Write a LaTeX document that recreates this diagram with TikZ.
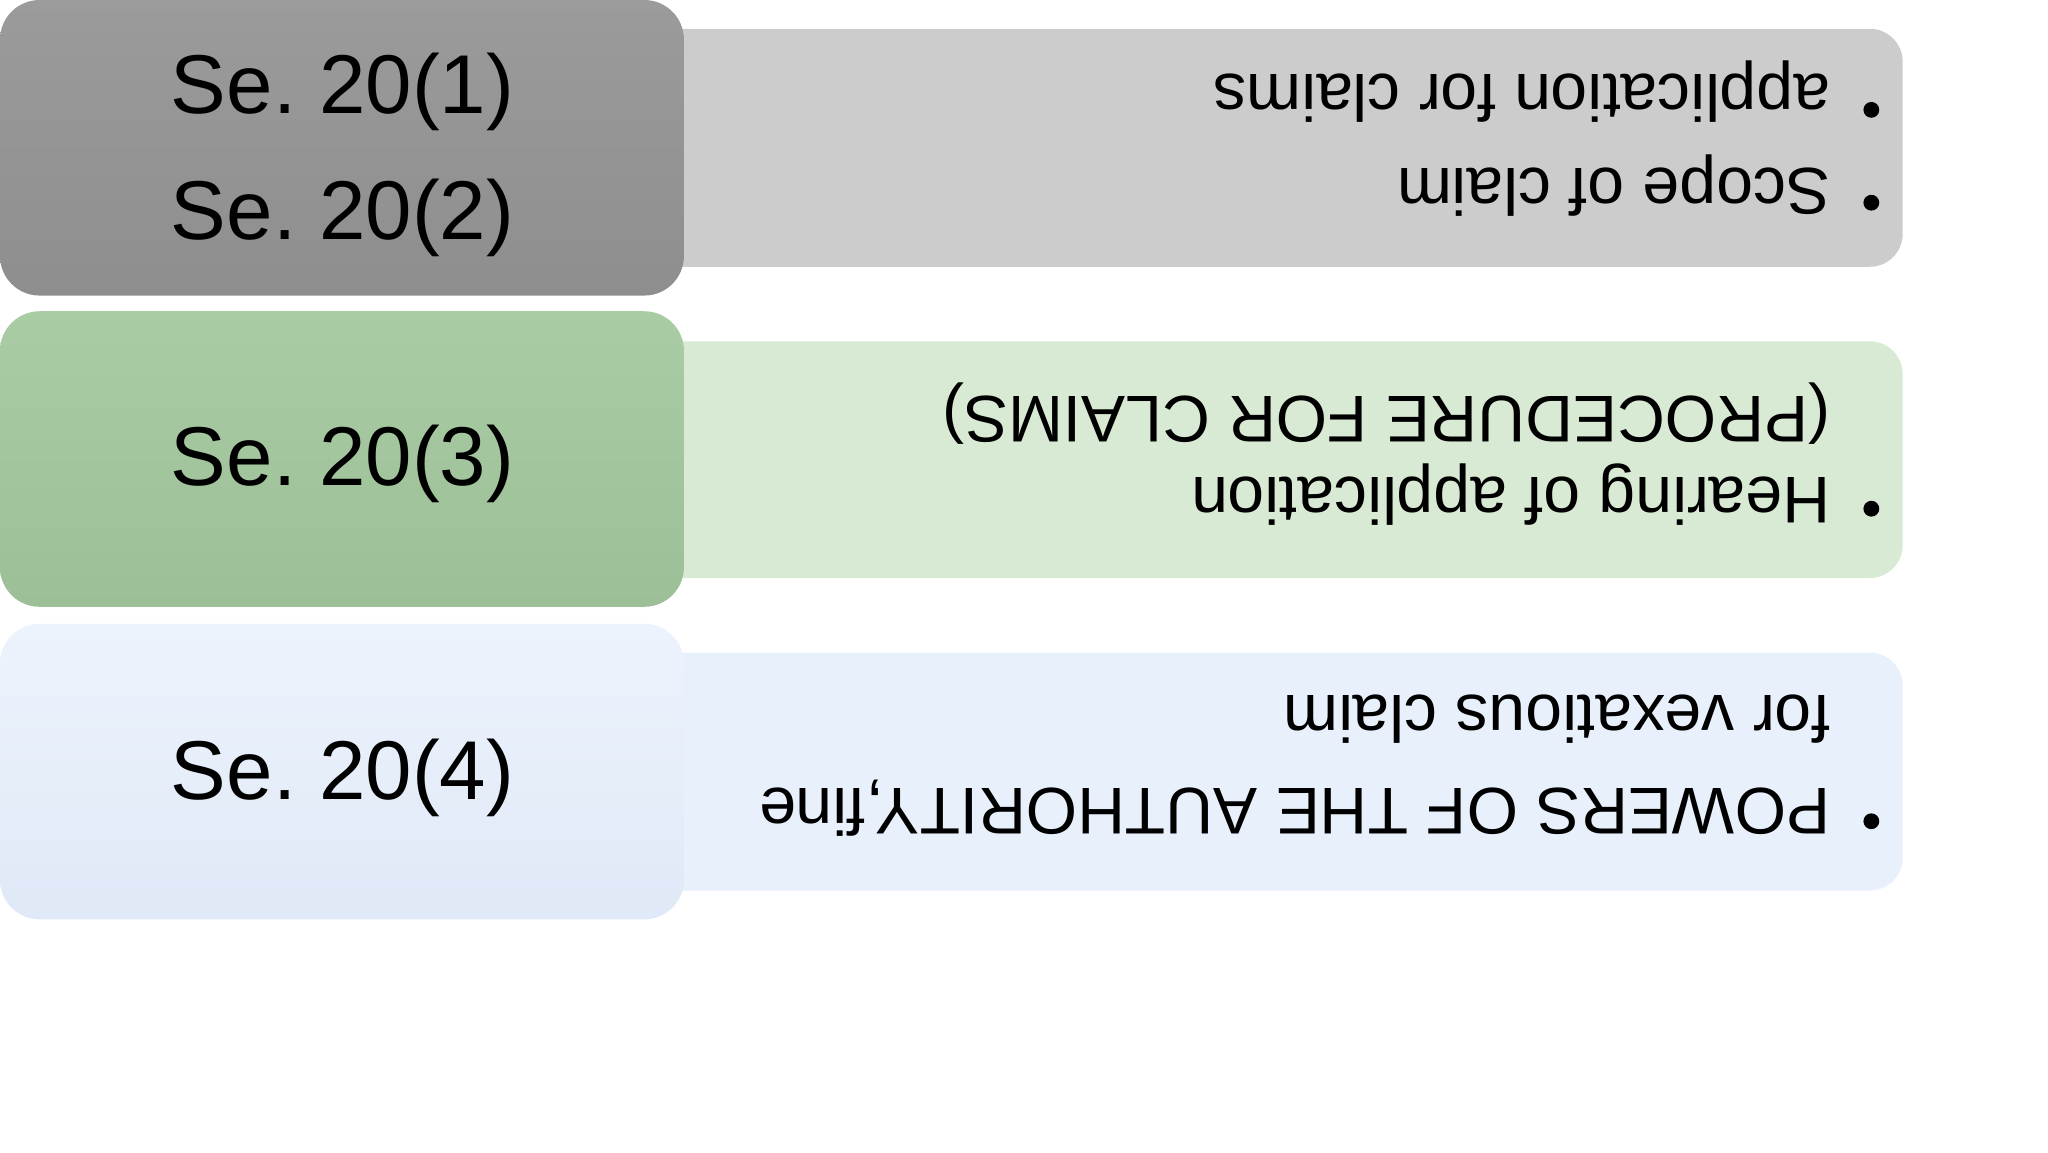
\documentclass[tikz,border=0pt]{standalone}
\usepackage{fontspec}
\setmainfont{Liberation Sans}
\frenchspacing
\begin{document}
\begin{tikzpicture}[x=0.02cm,y=-0.02cm,
  lbox/.style={rounded corners=0.6cm},
  rbox/.style={rounded corners=0.5cm},
  lt/.style={font=\fontsize{36}{40}\selectfont},
  rt/.style={font=\fontsize{28.5}{32}\selectfont,rotate=180,anchor=west,inner sep=0pt},
  bul/.style={circle,fill=black,inner sep=0pt,minimum size=0.24cm}]
\useasboundingbox (0,0) rectangle (1552,873);
\definecolor{g1}{HTML}{9B9B9B}\definecolor{g1b}{HTML}{8E8E8E}\definecolor{g2}{HTML}{CCCCCC}
\definecolor{n1}{HTML}{AACCA5}\definecolor{n1b}{HTML}{9DBF97}\definecolor{n2}{HTML}{D9EAD4}
\definecolor{b1}{HTML}{EDF3FC}\definecolor{b1b}{HTML}{DFE9F7}\definecolor{b2}{HTML}{E8F0FB}
\begin{scope}[scale=0.991]
\path[rbox,fill=g2] (480,22) rectangle (1455,204);
\path[rbox,fill=n2] (480,261) rectangle (1455,442);
\path[rbox,fill=b2] (480,499) rectangle (1455,681);
\path[lbox,top color=g1,bottom color=g1b] (0,0) rectangle (523,226);
\path[lbox,top color=n1,bottom color=n1b] (0,238) rectangle (523,464);
\path[lbox,top color=b1,bottom color=b1b] (0,477) rectangle (523,703);
\node[lt] (s1) at (262,70) {Se. 20(1)};
\node[lt] (s2) at (262,167) {Se. 20(2)};
\node[lt] (s3) at (262,355) {Se. 20(3)};
\node[lt] (s4) at (262,595) {Se. 20(4)};
\node[rt] (t1) at (1400,70) {application for claims};
\node[rt] (t2) at (1400,142) {Scope of claim};
\node[bul] (b1) at (1431,84) {};
\node[bul] (b2) at (1431,155) {};
\node[rt] (t3) at (1400,316) {(PROCEDURE FOR CLAIMS)};
\node[rt] (t4) at (1400,378) {Hearing of application};
\node[bul] (b3) at (1431,389) {};
\node[rt] (t5) at (1400,550) {for vexatious claim};
\node[rt] (t6) at (1400,618) {POWERS OF THE AUTHORITY,fine};
\node[bul] (b4) at (1431,628) {};
\end{scope}
\end{tikzpicture}
\end{document}
